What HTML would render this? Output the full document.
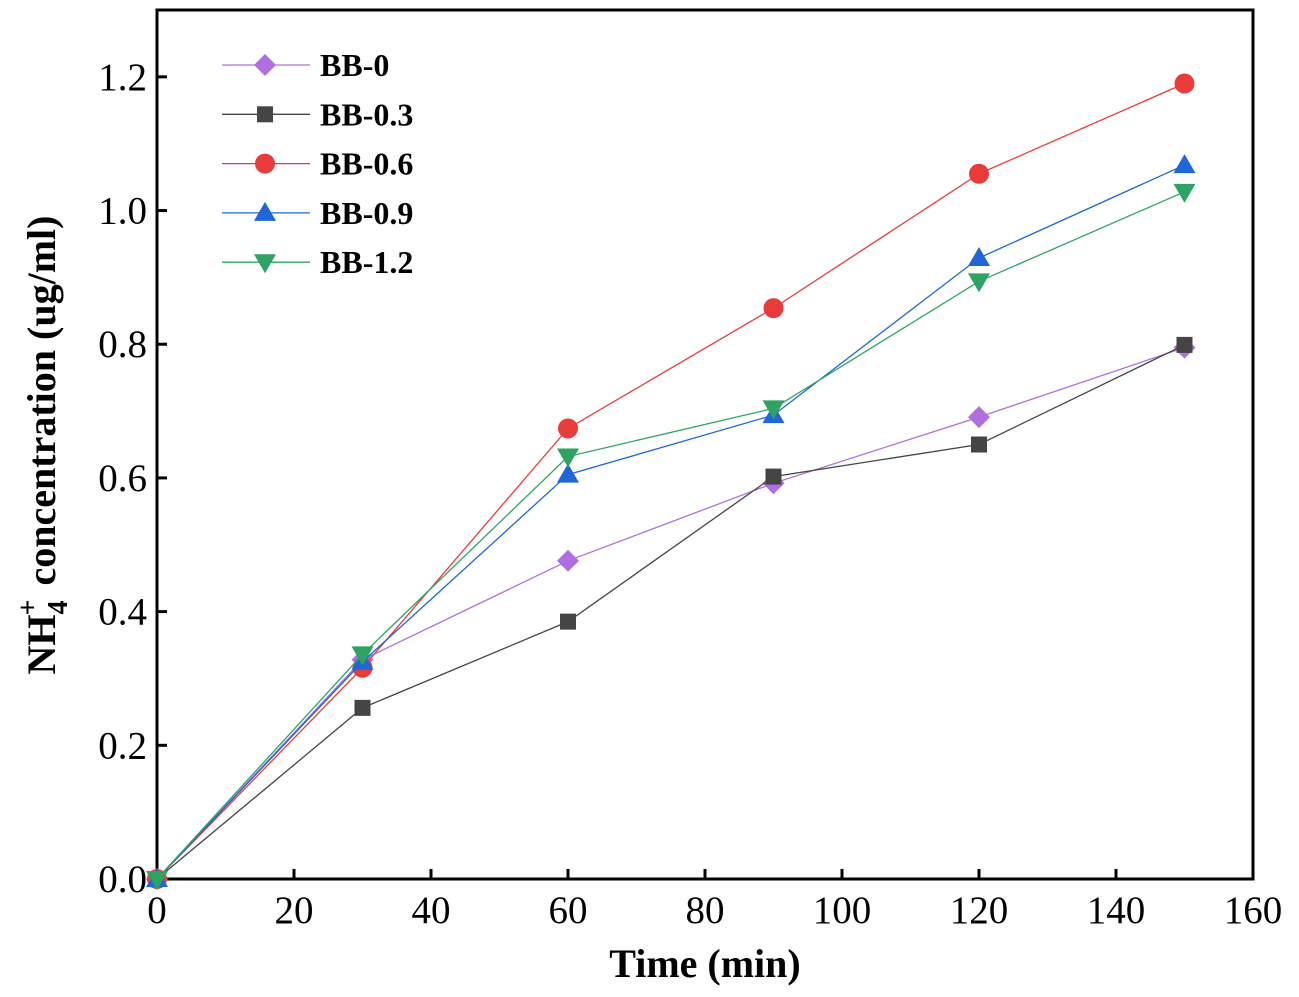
<!DOCTYPE html>
<html><head><meta charset="utf-8"><style>
html,body{margin:0;padding:0;background:#fff;}
svg{display:block;font-family:"Liberation Serif",serif;}
</style></head><body>
<svg id="chart" width="1299" height="997"></svg>
<script>
const categories=[0,30,60,90,120,150];
const seriesNames=["BB-0","BB-0.3","BB-0.6","BB-0.9","BB-1.2"];
const bb0=[0,0.328,0.476,0.592,0.691,0.795];
const bb03=[0,0.256,0.385,0.602,0.650,0.799];
const bb06=[0,0.316,0.674,0.854,1.055,1.190];
const bb09=[0,0.325,0.605,0.694,0.929,1.068];
const bb12=[0,0.336,0.632,0.704,0.894,1.028];
const xTicks=[0,20,40,60,80,100,120,140,160];
const yTicks=[0.0,0.2,0.4,0.6,0.8,1.0,1.2];
const colors=["#b06fe0","#454545","#ea3b3b","#1f66d8","#2ea464"];
const markers=["diamond","square","circle","up","down"];
const allSeries=[bb0,bb03,bb06,bb09,bb12];

const NS="http://www.w3.org/2000/svg";
const svg=document.getElementById('chart');
const L=157,R=1253,T=10,B=879;
const xs=v=>L+(v-0)/(160-0)*(R-L);
const ys=v=>B-(v-0)/(1.3-0)*(B-T);
function mk(tag,attrs,parent){const e=document.createElementNS(NS,tag);for(const k in attrs)e.setAttribute(k,attrs[k]);(parent||svg).appendChild(e);return e;}

const frame=mk('rect',{x:L,y:T,width:R-L,height:B-T,fill:'none',stroke:'#000','stroke-width':3});



xTicks.forEach(t=>{
  const l=mk('line',{x1:xs(t),x2:xs(t),y1:B,y2:B-10,stroke:'#000','stroke-width':3});
  
  
  const tx=mk('text',{x:xs(t),y:B+44,'text-anchor':'middle','font-size':39});
  tx.textContent=t;
  
  
});
yTicks.forEach(t=>{
  const l=mk('line',{x1:L,x2:L+10,y1:ys(t),y2:ys(t),stroke:'#000','stroke-width':3});
  
  
  const tx=mk('text',{x:L-10,y:ys(t)+13,'text-anchor':'end','font-size':39});
  tx.textContent=t.toFixed(1);
  
  
});
const xt=mk('text',{x:(L+R)/2,y:977,'text-anchor':'middle','font-size':40,'font-weight':'bold'});
xt.textContent='Time (min)';


const yt=mk('text',{transform:'translate(55,445) rotate(-90)','text-anchor':'middle','font-size':40,'font-weight':'bold'});
yt.innerHTML='NH<tspan font-size="28" dy="12">4</tspan><tspan font-size="28" dx="-15" dy="-30">+</tspan><tspan dx="14" dy="18">concentration (ug/ml)</tspan>';



function marker(type,x,y,c,g){
  const s=11;let e;
  if(type==='diamond')e=mk('polygon',{points:`${x},${y-s} ${x+s},${y} ${x},${y+s} ${x-s},${y}`,fill:c},g);
  else if(type==='square')e=mk('rect',{x:x-8,y:y-8,width:16,height:16,fill:c},g);
  else if(type==='circle')e=mk('circle',{cx:x,cy:y,r:10,fill:c},g);
  else if(type==='up')e=mk('polygon',{points:`${x},${y-11} ${x+11},${y+8} ${x-11},${y+8}`,fill:c},g);
  else e=mk('polygon',{points:`${x},${y+11} ${x+11},${y-8} ${x-11},${y-8}`,fill:c},g);
  return e;
}
allSeries.forEach((vals,i)=>{
  const g=mk('g',{});
  
  
  const pts=vals.map((v,j)=>xs(categories[j])+','+ys(v)).join(' ');
  const pl=mk('polyline',{points:pts,fill:'none',stroke:colors[i],'stroke-width':1.3},g);
  
  
  vals.forEach((v,j)=>{
    const m=marker(markers[i],xs(categories[j]),ys(v),colors[i],g);
    
    
  });
  const ly=65+i*49.3;
  const lg=mk('g',{},svg);
  
  
  mk('line',{x1:222,x2:310,y1:ly,y2:ly,stroke:colors[i],'stroke-width':1.3},lg);
  marker(markers[i],265,ly,colors[i],lg);
  const lt=mk('text',{x:320,y:ly+11,'font-size':32,'font-weight':'bold'},lg);
  lt.textContent=seriesNames[i];
});
</script>
</body></html>
